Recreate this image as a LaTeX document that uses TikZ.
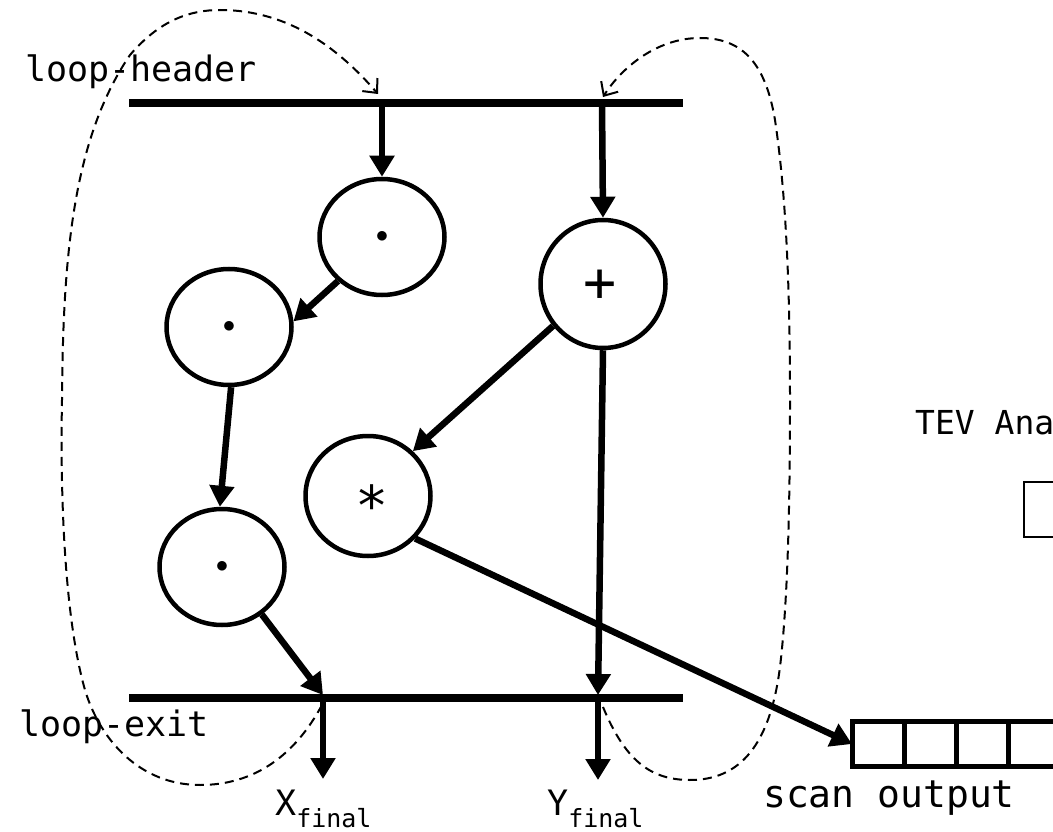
\documentclass[tikz,border=0pt]{standalone}
\usepackage{fontspec}
\setmonofont{DejaVu Sans Mono}
\usetikzlibrary{arrows.meta,shapes.geometric}

\begin{document}
\begin{tikzpicture}[x=1pt,y=-1pt,>={Triangle[length=21pt,width=24pt]},
  op/.style={draw,ellipse,line width=4.5pt,minimum width=125pt,minimum height=116pt,inner sep=0pt},
  opfont/.style={font=\ttfamily\fontsize{55}{55}\selectfont},
  dotfont/.style={font=\fontsize{27}{27}\selectfont},
  bar/.style={line width=7.5pt},
  flow/.style={->,line width=6.5pt},
  back/.style={line width=2pt,dash pattern=on 9pt off 6pt,-{Straight Barb[length=11pt,width=20pt]}},
  lbl/.style={inner sep=0pt,anchor=base west,font=\ttfamily\fontsize{35}{40}\selectfont},
  cell/.style={draw,line width=5pt,minimum width=52pt,minimum height=45pt,inner sep=0pt,outer sep=0pt}]
\clip (0,0) rectangle (1053,832);
% ================= loop header / loop exit =================
\draw[bar] (129,103) -- (683,103);
\draw[bar] (129,698) -- (683,698);
\node[lbl] (hdr) at (25,82) {loop-header};
\node[lbl] (ext) at (19,736) {loop-exit};
\coordinate (hx) at (382,103);
\coordinate (hy) at (602,103);
\coordinate (ex) at (323,695);
\coordinate (ey) at (598,695);
\coordinate (exo) at (323,698);
\coordinate (eyo) at (598,698);
\coordinate (xo) at (323,779);
\coordinate (yo) at (598,780);
% ================= operations =================
\node[op,dotfont] (c1) at (382,237) {$\bullet$};
\node[op,minimum height=128pt] (c2) at (603,284) {};
\node[opfont] at (600,286) {+};
\node[op,dotfont] (c3) at (229,327) {$\bullet$};
\node[op,minimum height=120pt] (c4) at (368,496) {};
\node[opfont] at (372,505) {*};
\node[op,dotfont] (c5) at (222,567) {$\bullet$};
% dataflow
\draw[flow] (hx) -- (c1.north);
\draw[flow] (hy) -- (c2.north);
\draw[flow] (c1.225) -- (c3.5);
\draw[flow] (c3.-88) -- (c5.92);
\draw[flow] (c2.220) -- (c4.45);
\draw[flow] (c2.south) -- (ey);
\draw[flow] (c5.-50) -- (ex);
\draw[flow] (exo) -- (xo);
\draw[flow] (eyo) -- (yo);
% results
\node[lbl] (xf) at (275,815) {X\raisebox{-12pt}{\fontsize{25}{25}\selectfont final}};
\node[lbl] (yf) at (547,815) {Y\raisebox{-12pt}{\fontsize{25}{25}\selectfont final}};
% ================= scan output =================
\foreach \i in {0,...,4}
  \node[cell] (s\i) at (878+52*\i,744) {};
\node[lbl,font=\ttfamily\fontsize{38}{40}\selectfont] (scan) at (763,807) {scan output};
\draw[flow] (c4.-42) -- (s0.west);
% ================= loop-carried (dashed) =================
\draw[back] (322,705) .. controls (295,755) and (255,785) .. (200,785)
  .. controls (140,785) and (100,740) .. (85,690)
  .. controls (65,620) and (60,500) .. (62,400)
  .. controls (63,260) and (72,140) .. (130,55)
  .. controls (160,20) and (190,10) .. (220,10)
  .. controls (290,10) and (340,50) .. (378,94);
\draw[back] (603,707) .. controls (625,760) and (650,780) .. (690,780)
  .. controls (740,780) and (770,745) .. (780,667)
  .. controls (788,600) and (790,500) .. (790,400)
  .. controls (790,300) and (787,200) .. (775,120)
  .. controls (765,60) and (740,38) .. (700,38)
  .. controls (655,38) and (620,70) .. (603,97);
% ================= TEV (cut at the edge) =================
\node[lbl,font=\ttfamily\fontsize{33}{40}\selectfont] (tev) at (915,434) {TEV Ana};
\node[draw,line width=2.5pt,minimum width=60pt,minimum height=55pt,outer sep=0pt,anchor=north west] (tevbox) at (1024,482) {};
\end{tikzpicture}
\end{document}
